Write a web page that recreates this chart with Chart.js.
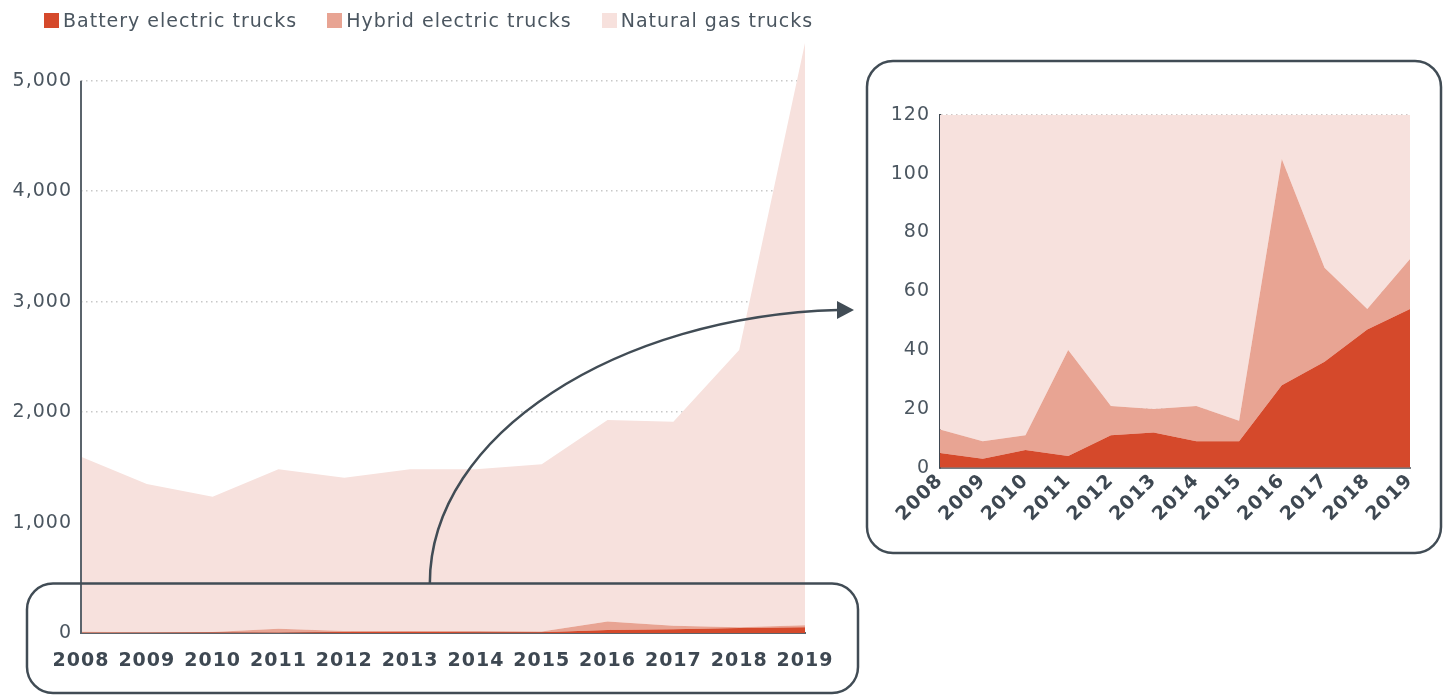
<!DOCTYPE html>
<html>
<head>
<meta charset="utf-8">
<script src="https://cdn.jsdelivr.net/npm/chart.js@4/dist/chart.umd.min.js"></script>
<style>
  html, body { margin: 0; padding: 0; background: #fff; width: 1450px; height: 695px; overflow: hidden; }
  #main { position: absolute; left: 0; top: 0; }
  #zoom { position: absolute; left: 868px; top: 62px; }
  .legend { position: absolute; left: 44px; top: 8px; display: flex; gap: 30px; letter-spacing: 1px;
            font-family: "DejaVu Sans", sans-serif; font-size: 19px; color: #4b5660; line-height: 24px; }
  .legend div { display: flex; align-items: center; }
  .legend i { display: inline-block; width: 15px; height: 15px; margin-right: 4px; }
</style>
</head>
<body>
<canvas id="main" width="1450" height="695"></canvas>
<canvas id="zoom" width="572" height="490"></canvas>
<div class="legend" id="legend"></div>
<script>
const years = ['2008', '2009', '2010', '2011', '2012', '2013', '2014', '2015', '2016', '2017', '2018', '2019'];
const batteryTrucks = [5, 3, 6, 4, 11, 12, 9, 9, 28, 36, 47, 54];
const hybridTrucks = [8, 6, 5, 36, 10, 8, 12, 7, 77, 32, 7, 17];
const gasTrucks = [1584, 1341, 1224, 1443, 1386, 1463, 1462, 1512, 1824, 1846, 2509, 5269];
const seriesNames = ['Battery electric trucks', 'Hybrid electric trucks', 'Natural gas trucks'];
const seriesColors = ['#d5492b', '#e8a493', '#f7e1dd'];
const mainTicks = [0, 1000, 2000, 3000, 4000, 5000];
const zoomTicks = [0, 20, 40, 60, 80, 100, 120];

const textColor = '#4b5660';
const axisColor = '#5b646c';
const frameColor = '#414c55';
const fontFamily = '"DejaVu Sans", sans-serif';

Chart.defaults.font.family = fontFamily;
Chart.defaults.color = textColor;

// html legend
const legendEl = document.getElementById('legend');
seriesNames.forEach((name, i) => {
    const item = document.createElement('div');
    item.innerHTML = `<i style="background:${seriesColors[i]}"></i>${name}`;
    legendEl.appendChild(item);
});

function makeDatasets() {
    return [batteryTrucks, hybridTrucks, gasTrucks].map((data, i) => ({
        label: seriesNames[i],
        data: data,
        backgroundColor: seriesColors[i],
        borderColor: 'rgba(0,0,0,0)',
        borderWidth: 0,
        pointRadius: 0,
        tension: 0,
        fill: i === 0 ? 'origin' : '-1'
    }));
}

function roundRect(ctx, x1, y1, x2, y2, r) {
    ctx.beginPath();
    ctx.moveTo(x1 + r, y1);
    ctx.arcTo(x2, y1, x2, y2, r);
    ctx.arcTo(x2, y2, x1, y2, r);
    ctx.arcTo(x1, y2, x1, y1, r);
    ctx.arcTo(x1, y1, x2, y1, r);
    ctx.closePath();
    ctx.stroke();
}

// wider text, closer to the original typeface
const spacing = {
    id: 'spacing',
    beforeUpdate(chart) { chart.ctx.letterSpacing = '1px'; }
};

// y axis line up to 5,000, zoom box, inset frame and arrow
const annotations = {
    id: 'annotations',
    afterDraw(chart) {
        const { ctx, chartArea, scales: { x, y } } = chart;
        ctx.save();
        ctx.strokeStyle = axisColor;
        ctx.lineWidth = 2;
        ctx.beginPath();
        ctx.moveTo(chartArea.left, y.getPixelForValue(0));
        ctx.lineTo(chartArea.left, y.getPixelForValue(5000));
        ctx.stroke();

        ctx.strokeStyle = frameColor;
        ctx.lineWidth = 2.5;
        const boxTop = y.getPixelForValue(450);
        roundRect(ctx, chartArea.left - 54, boxTop, chartArea.right + 53, chart.height - 2, 26);
        roundRect(ctx, 867, 61, 1441, 553, 26);

        const sx = x.getPixelForValue(5.3);
        const ex = 838, ey = 310;
        ctx.beginPath();
        ctx.moveTo(sx, boxTop);
        ctx.bezierCurveTo(sx, boxTop - 150, sx + 190, ey + 6, ex, ey);
        ctx.stroke();
        ctx.fillStyle = frameColor;
        ctx.beginPath();
        ctx.moveTo(ex - 1, ey - 9);
        ctx.lineTo(ex + 16, ey);
        ctx.lineTo(ex - 1, ey + 9);
        ctx.closePath();
        ctx.fill();
        ctx.restore();
    }
};

new Chart(document.getElementById('main'), {
    type: 'line',
    data: { labels: years, datasets: makeDatasets() },
    options: {
        responsive: false,
        animation: false,
        layout: { padding: { top: 42, right: 645, bottom: 7, left: 0 } },
        plugins: { legend: { display: false }, tooltip: { enabled: false } },
        scales: {
            x: {
                z: 1,
                grid: { display: false, drawTicks: false },
                border: { display: true, color: axisColor, width: 2 },
                ticks: { color: '#3e4852', font: { size: 19, weight: 'bold' }, padding: 16, maxRotation: 0, autoSkip: false }
            },
            y: {
                z: 1,
                stacked: true,
                min: 0,
                max: 5350,
                afterBuildTicks: s => { s.ticks = mainTicks.map(v => ({ value: v })); },
                afterFit: s => { s.width = 81; },
                grid: { drawTicks: false, color: c => c.tick && c.tick.value === 0 ? 'rgba(0,0,0,0)' : '#c8c8c8', lineWidth: 1.5 },
                border: { display: false, dash: [1.5, 3.5] },
                ticks: { padding: 9, font: { size: 19 }, color: textColor, callback: v => v.toLocaleString('en-US') }
            }
        }
    },
    plugins: [spacing, annotations]
});

new Chart(document.getElementById('zoom'), {
    type: 'line',
    data: { labels: years, datasets: makeDatasets() },
    options: {
        responsive: false,
        animation: false,
        layout: { padding: { top: 53, right: 30, bottom: 24, left: 0 } },
        plugins: { legend: { display: false }, tooltip: { enabled: false } },
        scales: {
            x: {
                z: 1,
                grid: { display: false, drawTicks: false },
                border: { display: true, color: '#777d82', width: 2 },
                ticks: { color: '#3e4852', font: { size: 19, weight: 'bold' }, padding: 2, minRotation: 45, maxRotation: 45, autoSkip: false }
            },
            y: {
                z: 1,
                stacked: true,
                min: 0,
                max: 120,
                afterBuildTicks: s => { s.ticks = zoomTicks.map(v => ({ value: v })); },
                afterFit: s => { s.width = 72; },
                grid: { drawTicks: false, color: c => c.tick && c.tick.value === 0 ? 'rgba(0,0,0,0)' : '#cfc6c4', lineWidth: 1.5 },
                border: { display: true, color: '#3e4852', width: 2, dash: [1.5, 3.5] },
                ticks: { padding: 10, font: { size: 19 }, color: textColor }
            }
        }
    },
    plugins: [spacing]
});
</script>
</body>
</html>
